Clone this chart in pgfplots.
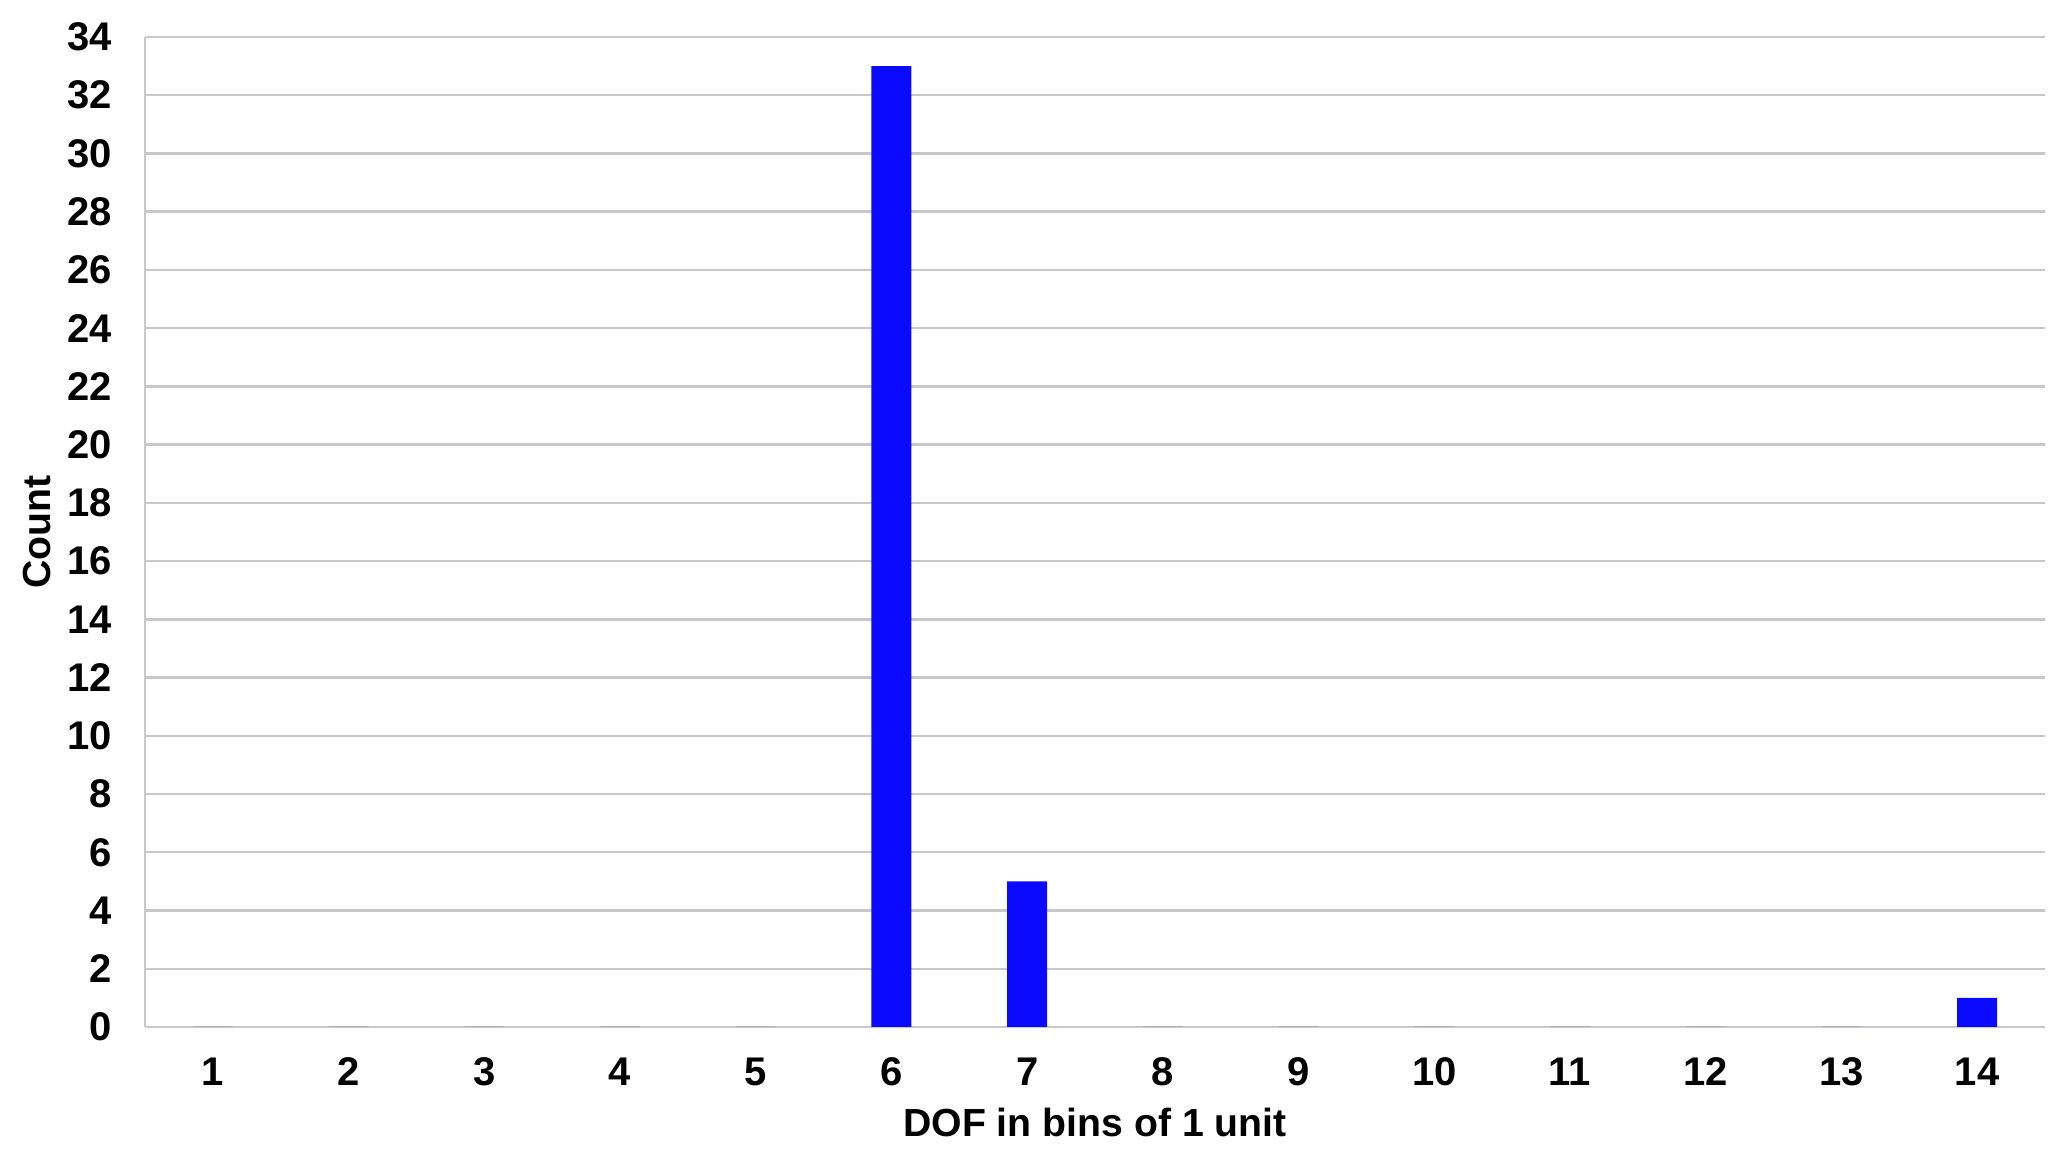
\documentclass[border=0pt]{standalone}
\usepackage{fontspec}
\setmainfont{Liberation Sans}
\usepackage{pgfplots}
\pgfplotsset{compat=1.18}
\definecolor{bar}{HTML}{0A0AFF}
\definecolor{gridgray}{HTML}{C8C8C8}

\begin{document}
\begin{tikzpicture}
\path[use as bounding box] (-36.25pt,-31.25pt) rectangle (479.75pt,256.75pt);
\begin{axis}[
  at={(0,0)},anchor=south west,
  scale only axis,width=475pt,height=247.5pt,
  xmin=0.5,xmax=14.5,ymin=0,ymax=34,
  xtick={1,...,14},ytick={0,2,...,34},
  major tick length=0pt,
  axis x line=bottom,axis y line=left,
  axis line style={gridgray,line width=0.6pt,-},
  ymajorgrids,grid style={gridgray,line width=0.6pt},
  /pgf/number format/assume math mode=true,
  tick label style={font=\fontsize{10}{12}\selectfont\bfseries},
  yticklabel style={anchor=east,inner sep=0pt,xshift=-8pt},
  xticklabel style={anchor=north,inner sep=0pt,yshift=-7.5pt},
  xlabel={DOF in bins of 1 unit},ylabel={Count},
  label style={font=\fontsize{9.8}{12}\selectfont\bfseries},
  xlabel style={at={(axis description cs:0.5,0)},anchor=center,yshift=-23.75pt},
  ylabel style={at={(axis description cs:0,0.5)},anchor=center,yshift=27pt},
  ybar,bar width=10pt,
]
\addplot[draw=none,fill=bar] coordinates {
 (1,0) (2,0) (3,0) (4,0) (5,0) (6,33) (7,5)
 (8,0) (9,0) (10,0) (11,0) (12,0) (13,0) (14,1)};
\end{axis}
\end{tikzpicture}
\end{document}
